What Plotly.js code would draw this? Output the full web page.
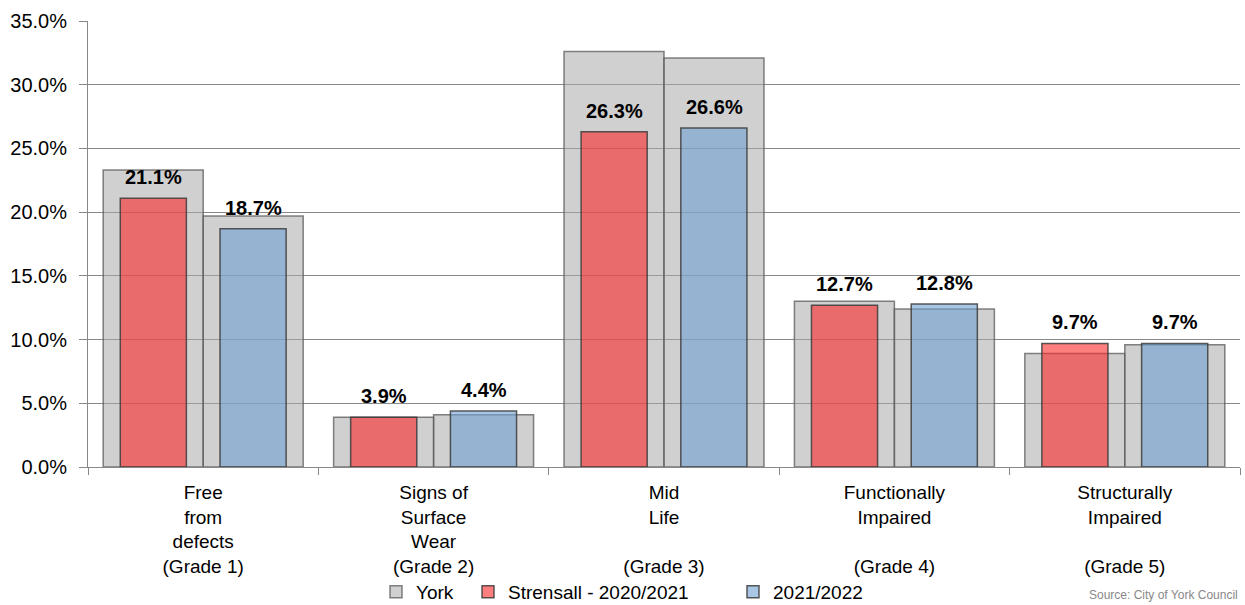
<!DOCTYPE html>
<html>
<head>
<meta charset="utf-8">
<script src="https://cdn.plot.ly/plotly-3.0.1.min.js"></script>
<style>
html,body{margin:0;padding:0;background:#fff;}
#chart{width:1245px;height:605px;}
</style>
</head>
<body>
<div id="chart"></div>
<script>
const categories = [
  "Free<br>from<br>defects<br>(Grade 1)",
  "Signs of<br>Surface<br>Wear<br>(Grade 2)",
  "Mid<br>Life<br><br>(Grade 3)",
  "Functionally<br>Impaired<br><br>(Grade 4)",
  "Structurally<br>Impaired<br><br>(Grade 5)"
];
const york2021 = [23.3, 3.9, 32.6, 13.0, 8.9];
const york2122 = [19.7, 4.1, 32.1, 12.4, 9.6];
const strensall2021 = [21.1, 3.9, 26.3, 12.7, 9.7];
const strensall2122 = [18.7, 4.4, 26.6, 12.8, 9.7];
const seriesNames = ["York", "Strensall - 2020/2021", "2021/2022"];
const sourceText = "Source: City of York Council";

const font = "Liberation Sans, Arial, sans-serif";
const yorkFill = "rgba(170,170,170,0.55)";
const yorkLine = "rgba(90,90,90,0.75)";
const redFill = "rgba(250,40,40,0.6)";
const blueFill = "rgba(111,161,211,0.6)";
const barLine = "rgba(60,60,60,0.85)";

const yorkW = 0.434, smallW = 0.287;
const redOffset = -0.36, blueOffset = 0.073;

const traces = [
  {type:"bar", x:categories, y:york2021, name:seriesNames[0], width:yorkW, offset:-yorkW,
   marker:{color:yorkFill, line:{color:yorkLine, width:1.5}}, legend:"legend"},
  {type:"bar", x:categories, y:york2122, name:seriesNames[0], showlegend:false, width:yorkW, offset:0,
   marker:{color:yorkFill, line:{color:yorkLine, width:1.5}}, legend:"legend"},
  {type:"bar", x:categories, y:strensall2021, name:seriesNames[1], width:smallW, offset:redOffset,
   marker:{color:redFill, line:{color:barLine, width:1.5}}, legend:"legend2"},
  {type:"bar", x:categories, y:strensall2122, name:seriesNames[2], width:smallW, offset:blueOffset,
   marker:{color:blueFill, line:{color:barLine, width:1.5}}, legend:"legend3"}
];

// value labels above the Strensall bars, positioned by the axes from the data
const labelFont = {family:font, size:20, color:"#000", weight:"bold"};
const annotations = [];
categories.forEach((c, i) => {
  annotations.push({x:c, y:strensall2021[i], xref:"x", yref:"y", text:strensall2021[i].toFixed(1)+"%",
    showarrow:false, yanchor:"bottom", xanchor:"center", xshift:-50, yshift:8, font:labelFont});
  annotations.push({x:c, y:strensall2122[i], xref:"x", yref:"y", text:strensall2122[i].toFixed(1)+"%",
    showarrow:false, yanchor:"bottom", xanchor:"center", xshift:50, yshift:8, font:labelFont});
});
annotations.push({text:sourceText, xref:"paper", yref:"paper", x:1, y:-0.307,
  xanchor:"right", yanchor:"bottom", showarrow:false,
  font:{family:font, size:12, color:"#888"}});

const legendBase = {orientation:"h", y:-0.28, yanchor:"middle", xanchor:"left",
  font:{family:font, size:19, color:"#000"}, itemwidth:30, bgcolor:"rgba(0,0,0,0)"};
const px = p => (p - 88) / 1152;

const layout = {
  width:1245, height:605,
  margin:{l:88, r:5, t:21, b:138, autoexpand:false},
  barmode:"overlay",
  paper_bgcolor:"#fff", plot_bgcolor:"#fff",
  font:{family:font, size:19, color:"#000"},
  showlegend:true,
  legend:Object.assign({}, legendBase, {x:px(376)}),
  legend2:Object.assign({}, legendBase, {x:px(468)}),
  legend3:Object.assign({}, legendBase, {x:px(733)}),
  xaxis:{type:"category", showline:true, linecolor:"#888", linewidth:1, automargin:false,
         ticks:"outside", tickson:"boundaries", ticklen:7, tickcolor:"#888", ticklabelstandoff:8,
         showgrid:false, tickfont:{family:font, size:19, color:"#000"}, fixedrange:true},
  yaxis:{range:[0,35], dtick:5, tickformat:".1f", ticksuffix:"%", automargin:false,
         showline:true, linecolor:"#888", linewidth:1,
         ticks:"outside", ticklen:8, tickcolor:"#888", ticklabelstandoff:8,
         showgrid:true, gridcolor:"#888", gridwidth:1, zeroline:false,
         tickfont:{family:font, size:20, color:"#000"}, fixedrange:true},
  annotations:annotations
};

Plotly.newPlot("chart", traces, layout, {displayModeBar:false, staticPlot:true});
</script>
</body>
</html>
